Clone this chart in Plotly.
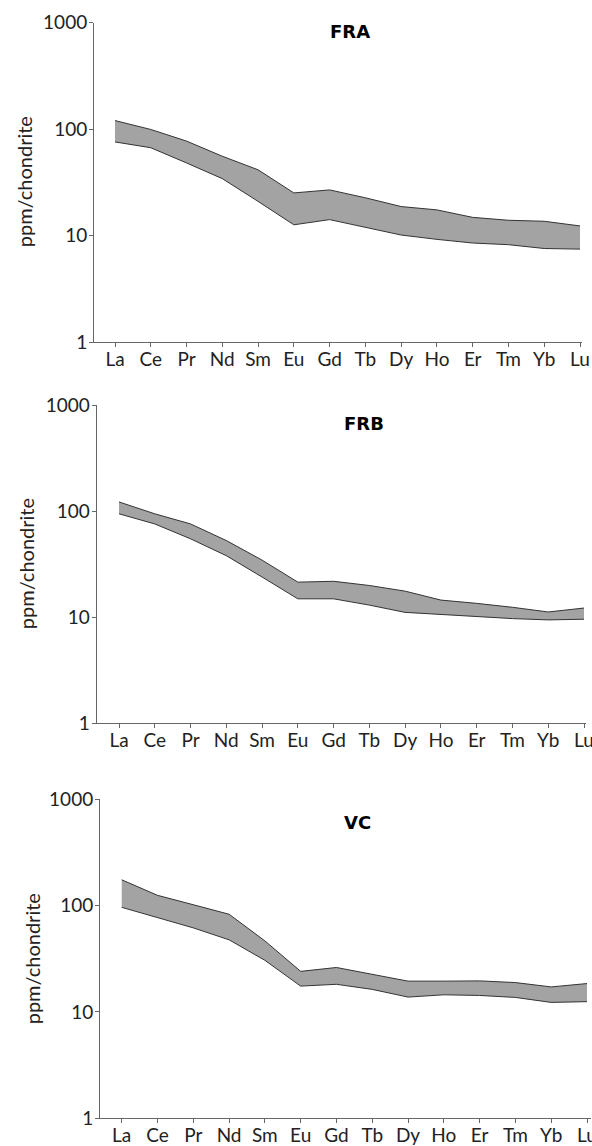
import plotly.graph_objects as go

elements = ["La", "Ce", "Pr", "Nd", "Sm", "Eu", "Gd", "Tb", "Dy", "Ho", "Er", "Tm", "Yb", "Lu"]

fra_upper = [120, 99, 77, 55.5, 41.4, 25.1, 26.8, 22.6, 18.7, 17.4, 14.8, 13.9, 13.6, 12.3]
fra_lower = [75.6, 66.7, 48, 34.2, 20.9, 12.6, 14.1, 12.0, 10.1, 9.2, 8.5, 8.2, 7.55, 7.45]

frb_upper = [122, 94.3, 75.7, 52.8, 34.5, 21.4, 21.8, 19.9, 17.6, 14.5, 13.5, 12.4, 11.2, 12.2]
frb_lower = [94.3, 75.7, 54.8, 38, 23.9, 14.9, 14.9, 13.0, 11.1, 10.6, 10.1, 9.7, 9.43, 9.57]

vc_upper = [175, 125, 102, 83, 46.6, 24.1, 26.2, 22.7, 19.5, 19.5, 19.6, 18.9, 17.2, 18.5]
vc_lower = [96.4, 77.2, 61.8, 47.7, 30.6, 17.5, 18.2, 16.3, 13.8, 14.5, 14.3, 13.7, 12.3, 12.5]

panel_titles = ["FRA", "FRB", "VC"]
y_tick_vals = [1, 10, 100, 1000]
y_tick_text = ["1", "10", "100", "1000"]
y_title = "ppm/chondrite"

W, H = 592, 1146
# pixel geometry: (axis left, La x, Lu x, axis right, y top, y bottom, title x, title y, ytitle x)
panels = [
    (94.0, 115.0, 580.0, 582.0, 22.5, 342.0, 350, 31.3, 24),
    (96.7, 119.0, 584.0, 586.0, 405.0, 723.3, 364, 423.3, 26),
    (100.0, 121.7, 587.0, 591.0, 799.3, 1118.3, 357, 822, 31.5),
]
series = [(fra_lower, fra_upper), (frb_lower, frb_upper), (vc_lower, vc_upper)]

fig = go.Figure()
x_idx = list(range(len(elements)))
annotations = []
layout = dict(
    width=W, height=H,
    margin=dict(l=0, r=0, t=0, b=0, pad=0),
    paper_bgcolor="white", plot_bgcolor="white",
    showlegend=False,
    font=dict(family="Lato, sans-serif", size=19, color="#222"),
)

for i, ((lo, hi), p) in enumerate(zip(series, panels)):
    axl, xla, xlu, axr, yt, yb, tx, ty, ytx = p
    s = (xlu - xla) / (len(elements) - 1)
    xr = [-(xla - axl) / s, (len(elements) - 1) + (axr - xlu) / s]
    n = "" if i == 0 else str(i + 1)
    xa, ya = "x" + n, "y" + n
    fig.add_trace(go.Scatter(x=x_idx, y=lo, mode="lines", xaxis=xa, yaxis=ya,
                             line=dict(color="#333", width=1), hoverinfo="skip"))
    fig.add_trace(go.Scatter(x=x_idx, y=hi, mode="lines", xaxis=xa, yaxis=ya,
                             fill="tonexty", fillcolor="#a3a3a3",
                             line=dict(color="#333", width=1), hoverinfo="skip"))
    layout["xaxis" + n] = dict(
        domain=[axl / W, axr / W], range=xr, anchor=ya, automargin=False,
        tickvals=x_idx, ticktext=elements, ticklabeloverflow="allow",
        ticklabelstandoff=-4,
        showline=True, linecolor="#666", linewidth=1,
        ticks="outside", ticklen=4, tickcolor="#666",
        showgrid=False, zeroline=False,
        tickfont=dict(family="Lato, sans-serif", size=19, color="#222"),
    )
    layout["yaxis" + n] = dict(
        domain=[1 - yb / H, 1 - yt / H], type="log", range=[0, 3], anchor=xa, automargin=False,
        tickvals=y_tick_vals, ticktext=y_tick_text, ticklabeloverflow="allow",
        ticklabelstandoff=-2,
        showline=True, linecolor="#666", linewidth=1,
        ticks="outside", ticklen=4, tickcolor="#666",
        showgrid=False, zeroline=False,
        tickfont=dict(family="Lato, sans-serif", size=19, color="#222"),
    )
    annotations.append(dict(text="<b>" + panel_titles[i] + "</b>", x=tx / W, y=1 - ty / H,
                            xref="paper", yref="paper", showarrow=False,
                            xanchor="center", yanchor="middle",
                            font=dict(family="DejaVu Sans, sans-serif", size=18, color="#000")))
    annotations.append(dict(text=y_title, x=ytx / W, y=1 - (yt + yb) / 2 / H,
                            xref="paper", yref="paper", showarrow=False, textangle=-90,
                            xanchor="center", yanchor="middle",
                            font=dict(family="Lato, sans-serif", size=20, color="#222")))

layout["annotations"] = annotations
fig.update_layout(**layout)
fig.write_html("out.html", config={"displayModeBar": False},
               post_script="document.body.style.margin='0';document.body.style.padding='0';document.body.style.overflow='hidden';")
